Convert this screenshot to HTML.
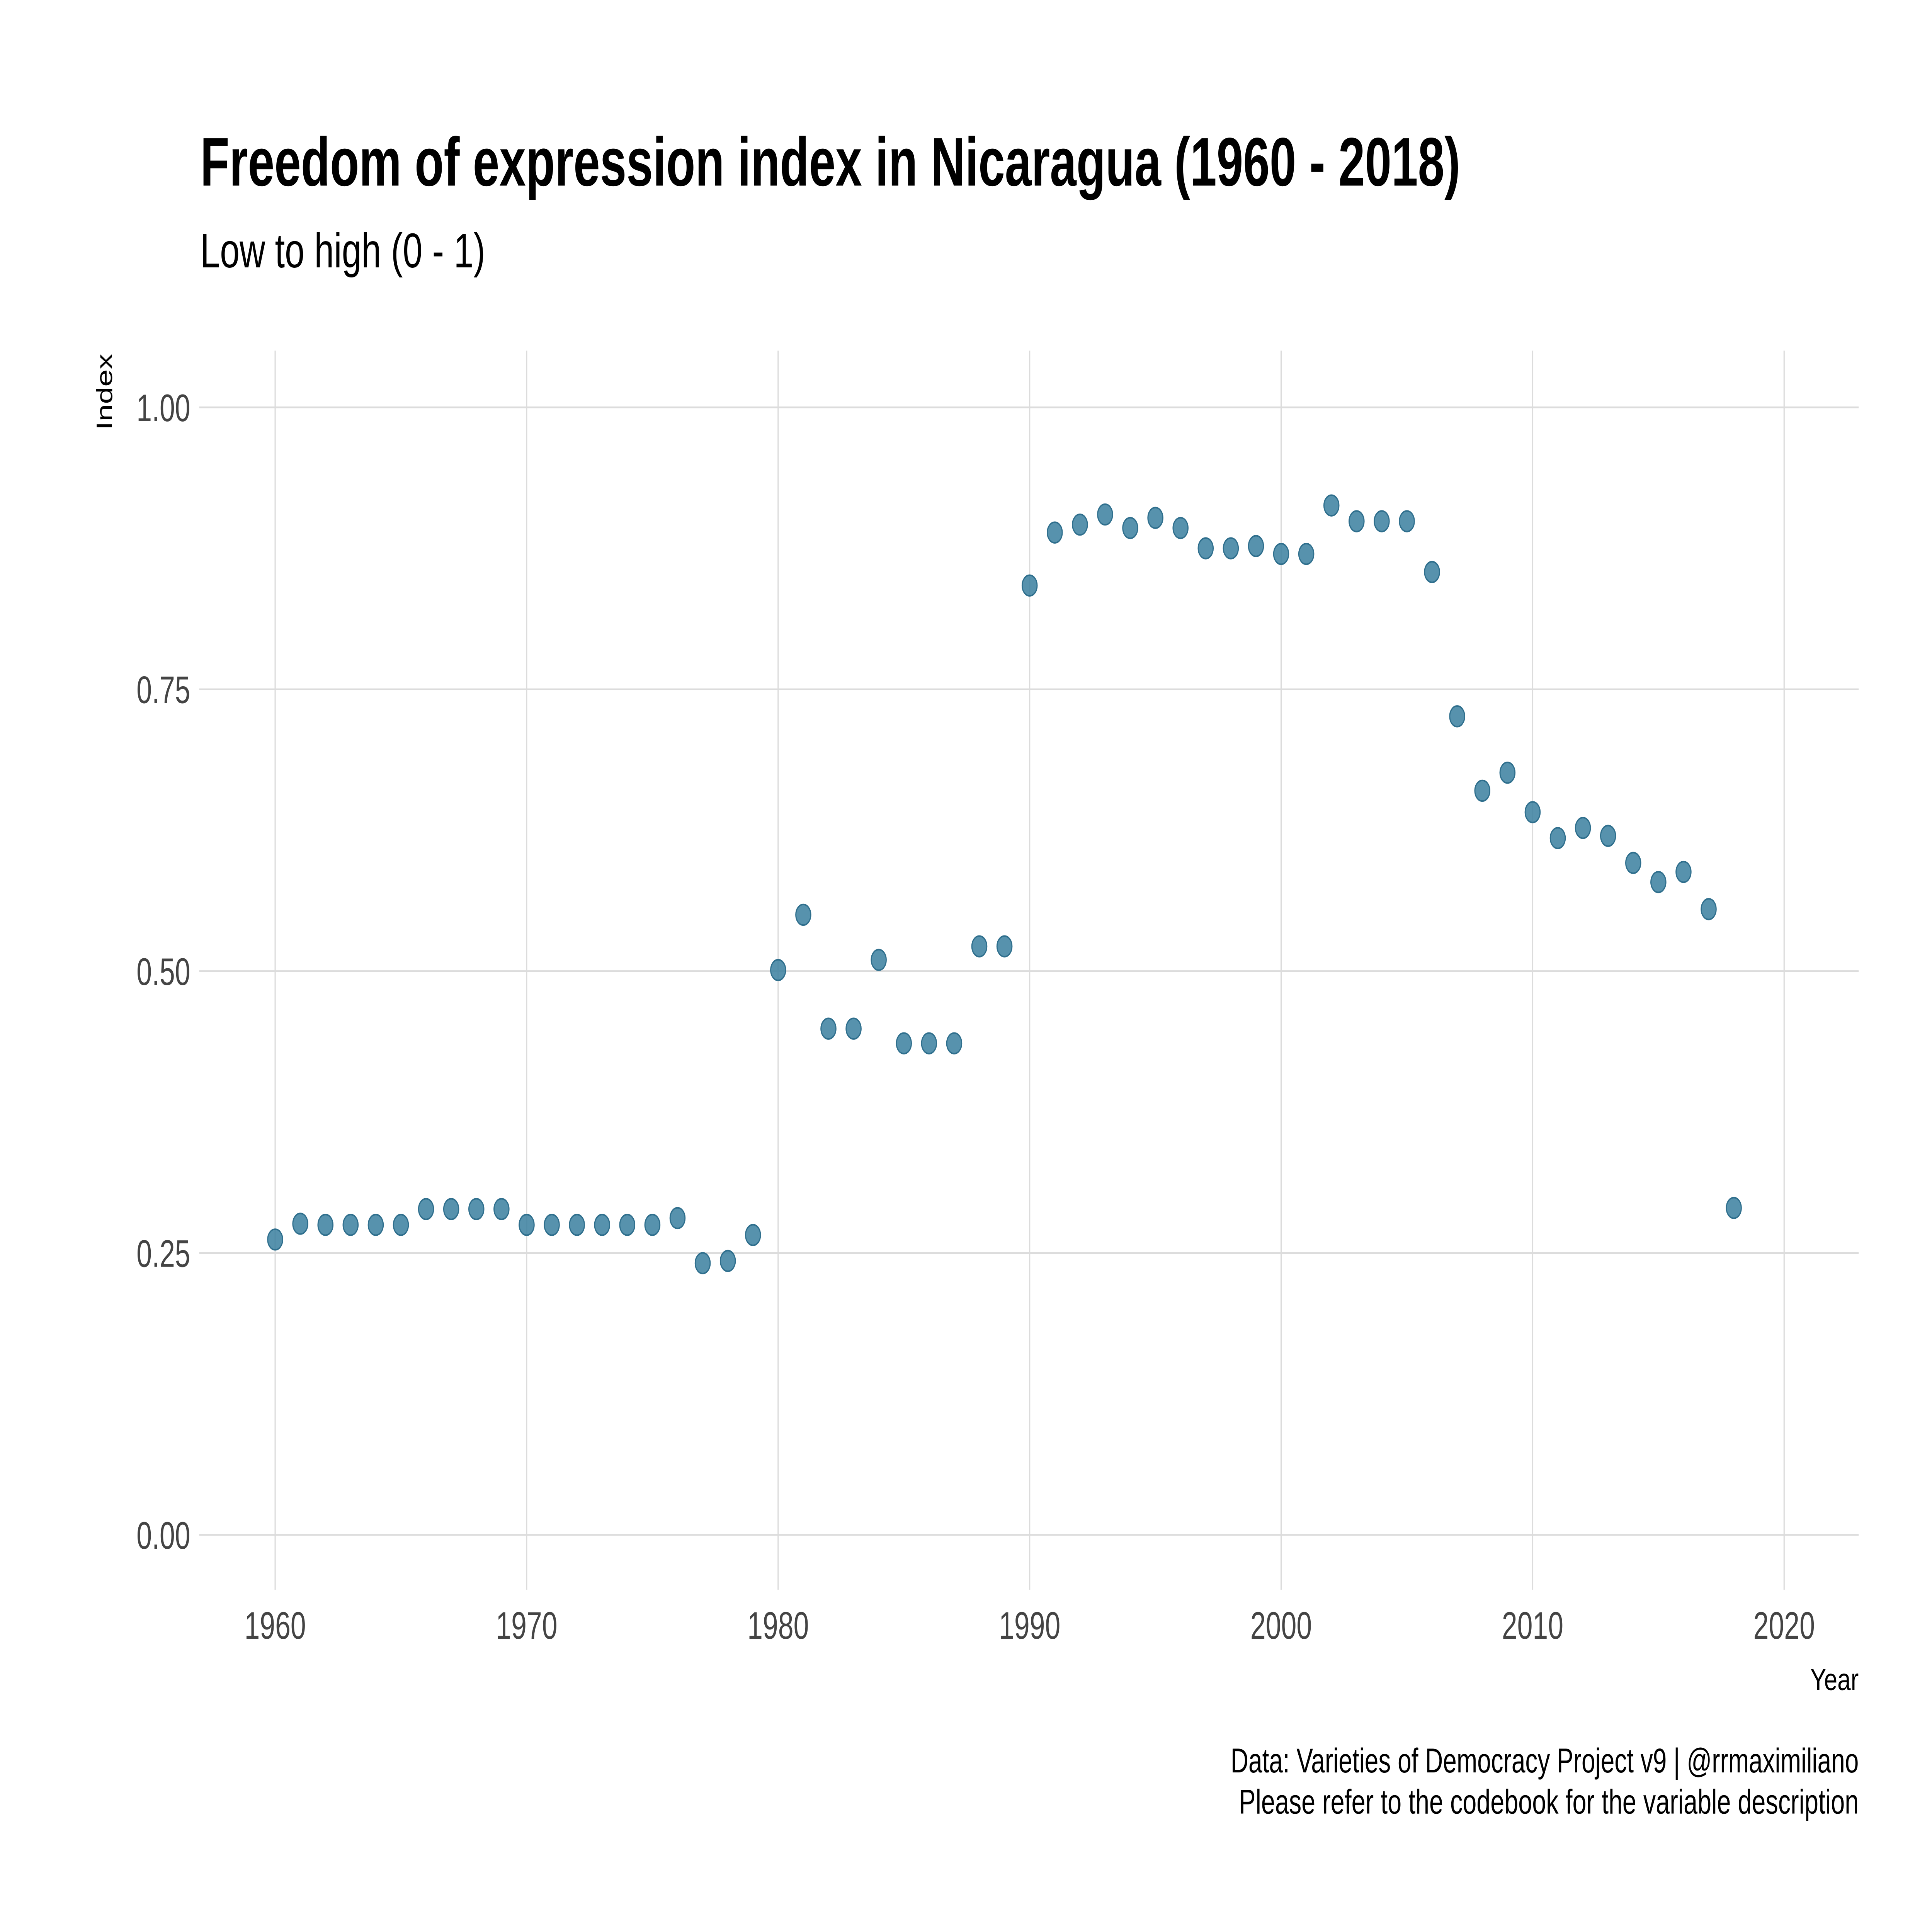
<!DOCTYPE html>
<html><head><meta charset="utf-8"><style>
html,body{margin:0;padding:0;background:#fff;width:100%;height:100%;overflow:hidden;}
svg{display:block;font-family:"Liberation Sans",sans-serif;width:100vw;height:100vh;}
</style></head><body>
<svg id="chart" viewBox="0 0 6983 5058" preserveAspectRatio="none" xmlns="http://www.w3.org/2000/svg">
<rect width="6983" height="5058" fill="#fff"/>
<text x="724" y="486" font-size="180" font-weight="bold" fill="#000" textLength="4554" lengthAdjust="spacingAndGlyphs">Freedom of expression index in Nicaragua (1960 - 2018)</text>
<text x="724" y="700" font-size="128" fill="#000" textLength="1030" lengthAdjust="spacingAndGlyphs">Low to high (0 - 1)</text>
<g id="grid"></g>
<g id="ticks"></g>
<g id="points"></g>
<text transform="translate(405,1026) rotate(-90)" text-anchor="middle" font-size="80" fill="#000" textLength="200" lengthAdjust="spacingAndGlyphs">Index</text>
<text x="6718" y="4424" text-anchor="end" font-size="80" fill="#000" textLength="175" lengthAdjust="spacingAndGlyphs">Year</text>
<text x="6718" y="4640" text-anchor="end" font-size="90" fill="#000" textLength="2270" lengthAdjust="spacingAndGlyphs">Data: Varieties of Democracy Project v9 | @rrmaximiliano</text>
<text x="6718" y="4748" text-anchor="end" font-size="90" fill="#000" textLength="2240" lengthAdjust="spacingAndGlyphs">Please refer to the codebook for the variable description</text>
</svg>
<script>
const years = [];
for (let y = 1960; y <= 2018; y++) years.push(y);
const values = [0.262,0.276,0.275,0.275,0.275,0.275,0.289,0.289,0.289,0.289,
0.275,0.275,0.275,0.275,0.275,0.275,0.281,0.241,0.243,0.266,
0.501,0.550,0.449,0.449,0.510,0.436,0.436,0.436,0.522,0.522,
0.842,0.889,0.896,0.905,0.893,0.902,0.893,0.875,0.875,0.877,
0.870,0.870,0.913,0.899,0.899,0.899,0.854,0.726,0.660,0.676,
0.641,0.618,0.627,0.620,0.596,0.579,0.588,0.555,0.290];
const xTicks = [1960,1970,1980,1990,2000,2010,2020];
const yTicks = [0,0.25,0.5,0.75,1];
const yTickLabels = ["0.00","0.25","0.50","0.75","1.00"];

const NS = "http://www.w3.org/2000/svg";
const L = 720, R = 6718, T = 918, B = 4162;
const xs = v => 994.5 + (v - 1960) * (6448.5 - 994.5) / 60;
const ys = v => 4018.5 - v * (4018.5 - 1066.5);
function mk(tag, attrs, parent){const e=document.createElementNS(NS,tag);for(const k in attrs)e.setAttribute(k,attrs[k]);parent.appendChild(e);return e;}
const grid = document.getElementById('grid'), ticks = document.getElementById('ticks'), pts = document.getElementById('points');
yTicks.forEach((v,i)=>{
  const g = mk('line',{x1:L,x2:R,y1:ys(v),y2:ys(v),stroke:'#dcdcdc','stroke-width':4.5},grid);
  
  
  const t = mk('text',{x:688,y:ys(v)+36,'text-anchor':'end','font-size':100,fill:'#444'},ticks);
  t.textContent = yTickLabels[i];
  
  
});
xTicks.forEach(v=>{
  const g = mk('line',{x1:xs(v),x2:xs(v),y1:T,y2:B,stroke:'#dcdcdc','stroke-width':4.5},grid);
  
  
  const t = mk('text',{x:xs(v),y:4290,'text-anchor':'middle','font-size':100,fill:'#444'},ticks);
  t.textContent = v;
  
  
});
years.forEach((yr,i)=>{
  const c = mk('circle',{cx:xs(yr),cy:ys(values[i]),r:27,fill:'#3a7f9f','fill-opacity':0.85,stroke:'#2f6f8d','stroke-width':4},pts);
  
  
});
</script>
</body></html>
